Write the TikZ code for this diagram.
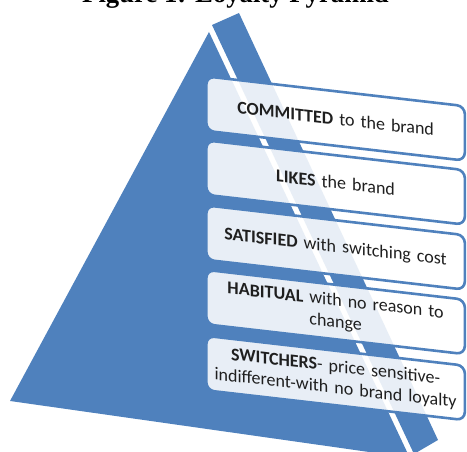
\documentclass[tikz,border=0pt]{standalone}
\usepackage{fontspec}
\setmainfont{Carlito}
\newfontfamily\titlefont{Liberation Serif}
\definecolor{pyblue}{HTML}{4F81BD}
\begin{document}
\begin{tikzpicture}[x=1pt,y=1pt,
  face/.style={fill=pyblue, draw=none},
  tier/.style={draw=pyblue, line width=2.6pt, fill=white, fill opacity=0.87,
    text opacity=1, rounded corners=8pt, minimum width=258.5pt,
    minimum height=54.5pt, text width=252pt, align=center, inner sep=0pt,
    font=\fontsize{18}{21.5}\selectfont, text=black!88, transform shape},
  titlestyle/.style={font=\titlefont\bfseries\fontsize{26.7}{30}\selectfont, anchor=base, inner sep=0pt}
  ]
\useasboundingbox (0,0) rectangle (467,452);
\clip (0,0) rectangle (467,452);
% pyramid faces (y = 452 - pixel row)
\fill[face] (209,420) -- (10,51) -- (409.8,-5.8) -- cycle;
\fill[face] (212,427) -- (239,439) -- (438,12) -- (414,-2) -- cycle;
% title (cut at the top)
\node[titlestyle] (title) at (235.5,449) {Figure 1: Loyalty Pyramid};
% tiers
\begin{scope}[shift={(205,377)}, yslant=-0.115]
  \node[tier] (t1) at (130.6,-28.5) {\textbf{COMMITTED} to the brand};
\end{scope}
\begin{scope}[shift={(205,313)}, yslant=-0.115]
  \node[tier] (t2) at (130.6,-28.5) {\textbf{LIKES} the brand};
\end{scope}
\begin{scope}[shift={(205,248)}, yslant=-0.115]
  \node[tier] (t3) at (130.6,-28.5) {\textbf{SATISFIED} with switching cost};
\end{scope}
\begin{scope}[shift={(205,183.5)}, yslant=-0.115]
  \node[tier] (t4) at (130.6,-28.5) {\textbf{HABITUAL} with no reason to\\change};
\end{scope}
\begin{scope}[shift={(205,117.5)}, yslant=-0.115]
  \node[tier] (t5) at (130.6,-28.5) {\textbf{SWITCHERS}- price sensitive-\\indifferent-with no brand loyalty};
\end{scope}
\end{tikzpicture}
\end{document}
